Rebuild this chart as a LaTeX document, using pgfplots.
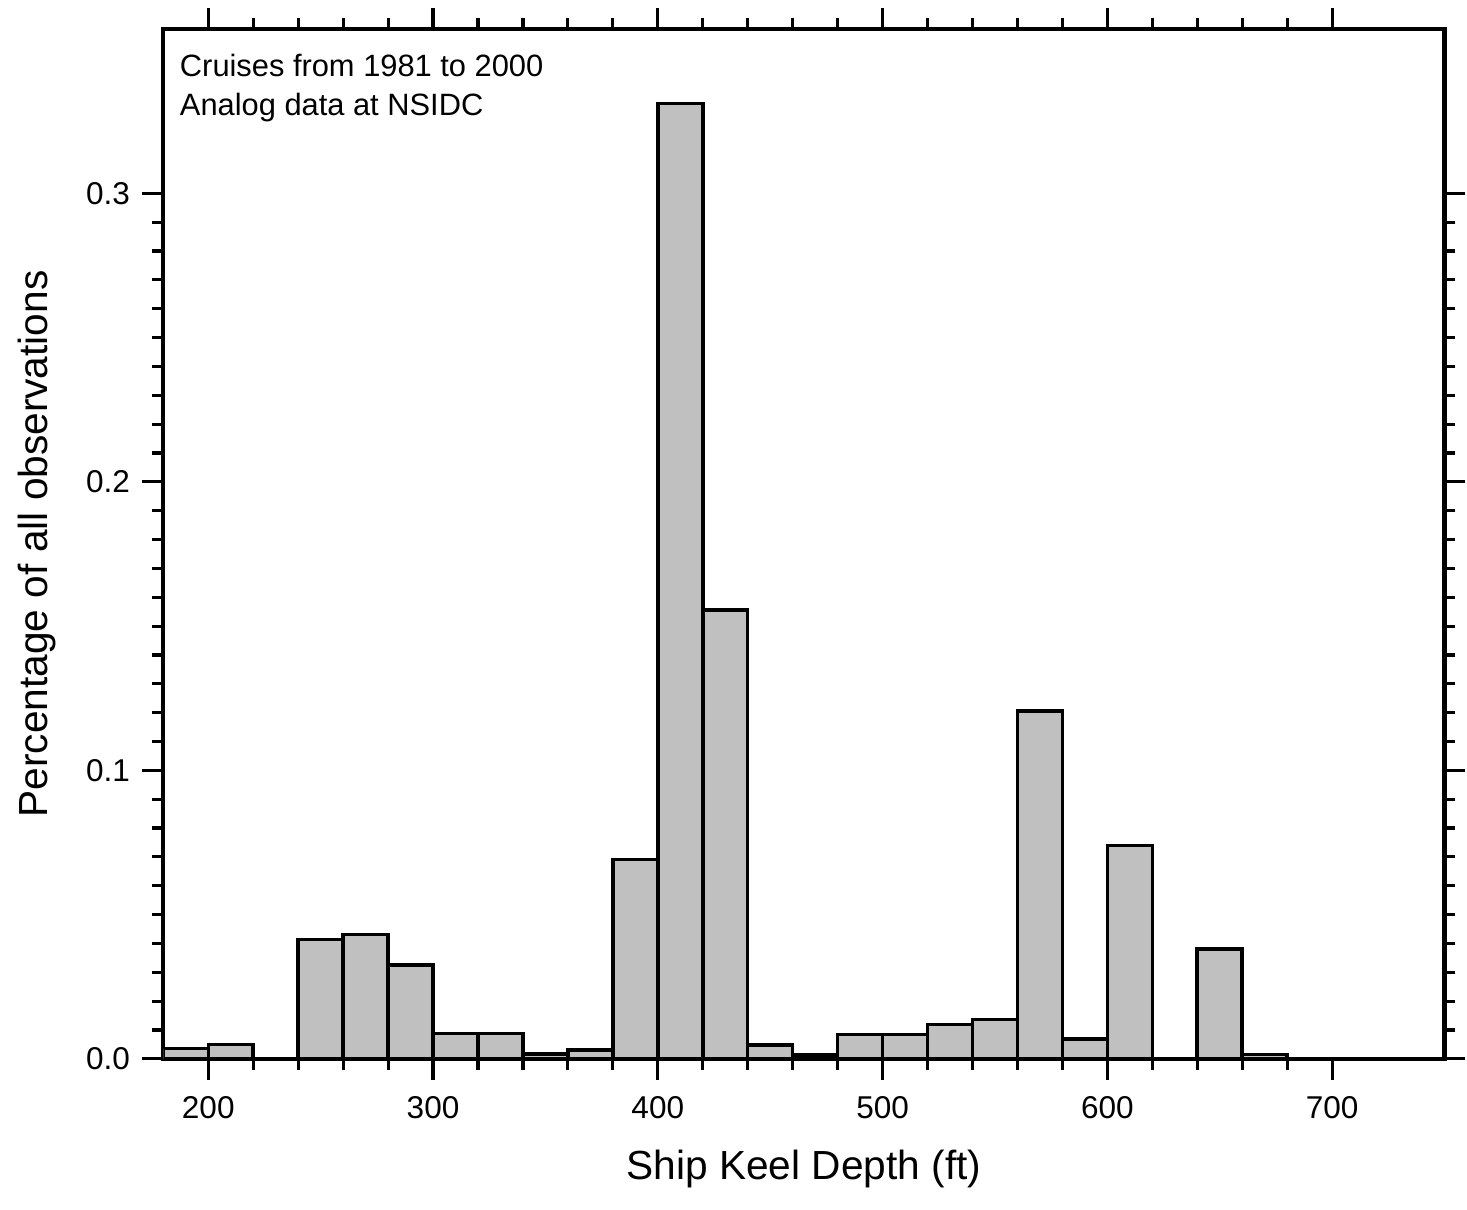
\documentclass[border=0pt]{standalone}
\usepackage{fontspec}
\setmainfont{Liberation Sans}
\usepackage{pgfplots}
\pgfplotsset{compat=1.18}
\definecolor{bargray}{RGB}{192,192,192}

\begin{document}
\begin{tikzpicture}
\begin{axis}[
    scale only axis,
    width=12.85cm,
    height=10.33cm,
    xmin=180, xmax=750,
    ymin=0, ymax=0.357,
    xtick={200,300,400,500,600,700},
    minor x tick num=4,
    ytick={0,0.1,0.2,0.3},
    minor y tick num=9,
    tick align=outside,
    tick pos=both,
    major tick length=0.21cm,
    minor tick length=0.11cm,
    every tick/.style={black, line width=0.9pt},
    axis line style={line width=1.2pt},
    /pgf/number format/assume math mode=true,
    yticklabel style={/pgf/number format/fixed, /pgf/number format/fixed zerofill, /pgf/number format/precision=1},
    xticklabel style={/pgf/number format/1000 sep={}, yshift=-0.04cm},
    tick label style={font=\fontsize{9}{10}\selectfont},
    label style={font=\fontsize{11.6}{14}\selectfont},
    xlabel={Ship Keel Depth (ft)},
    ylabel={Percentage of all observations},
    xlabel style={inner ysep=0.22cm, yshift=0.03cm},
    ylabel style={inner ysep=0.18cm},
    extra description/.code={\path (rel axis cs:0,1) ++(0,0.29cm);},
]
\addplot[ybar interval, fill=bargray, draw=black, line width=1pt] coordinates {
(180,0.0035) (200,0.0049) (220,0) (240,0.0414) (260,0.0431) (280,0.0326)
(300,0.0087) (320,0.0087) (340,0.0016) (360,0.0030) (380,0.0691)
(400,0.3311) (420,0.1555) (440,0.0048) (460,0.0014) (480,0.0085)
(500,0.0085) (520,0.0119) (540,0.0136) (560,0.1206) (580,0.0069)
(600,0.0740) (620,0) (640,0.0380) (660,0.0015) (680,0)
};
\node[anchor=north west, align=left, inner sep=0pt, font=\fontsize{8.8}{11}\selectfont]
  at (rel axis cs:0,1) [xshift=0.16cm, yshift=-0.25cm]
  {Cruises from 1981 to 2000\\Analog data at NSIDC};
\end{axis}
\end{tikzpicture}
\end{document}
